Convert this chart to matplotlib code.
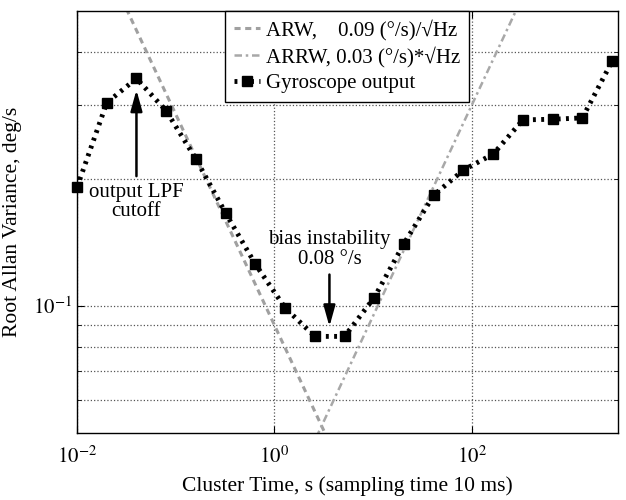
import numpy as np
import matplotlib
matplotlib.use("Agg")
from matplotlib import pyplot as plt
from matplotlib.ticker import NullFormatter, FixedLocator

plt.rcParams['font.family'] = ['Liberation Serif', 'DejaVu Serif']
plt.rcParams['mathtext.fontset'] = 'stix'

# cluster time (s) and root Allan variance (deg/s)
tau = [0.01, 0.02, 0.04, 0.08, 0.16, 0.32, 0.64, 1.28, 2.56, 5.12, 10.24,
       20.48, 40.96, 81.92, 163.84, 327.68, 655.36, 1310.72, 2621.44]
sigma = [0.191, 0.303, 0.346, 0.290, 0.223, 0.166, 0.1256, 0.099, 0.0847,
         0.0847, 0.1047, 0.1406, 0.183, 0.210, 0.229, 0.276, 0.277, 0.279, 0.380]

# noise model coefficients from the legend
arw_coef = 0.09
arrw_coef = 0.03

fig = plt.figure(figsize=(6.26, 5.0), dpi=100)
ax = fig.add_axes([0.123, 0.134, 0.864, 0.844])

t = np.logspace(-2, 3.5, 200)
ax.plot(t, arw_coef / np.sqrt(t), linestyle=(0, (2, 1.5)), color='#a0a0a0',
        lw=2.2, label='ARW,    0.09 (°/s)/√Hz')
ax.plot(t, arrw_coef * np.sqrt(t), linestyle=(0, (3, 1.5, 1, 1.5)), color='#a8a8a8',
        lw=1.8, label='ARRW, 0.03 (°/s)*√Hz')
ax.plot(tau, sigma, linestyle=(0, (0.6, 1.1)), color='black', lw=3.5,
        marker='s', markersize=6.5, clip_on=False, label='Gyroscope output')

ax.set_xscale('log')
ax.set_yscale('log')
ax.set_xlim(0.01, 3000)
ax.set_ylim(0.05, 0.5)

ax.xaxis.set_major_locator(FixedLocator([1e-2, 1e0, 1e2]))
ax.xaxis.set_minor_locator(FixedLocator([]))
ax.set_xticklabels([r'$10^{-2}$', r'$10^{0}$', r'$10^{2}$'])
ax.yaxis.set_major_locator(FixedLocator([0.1]))
ax.set_yticklabels([r'$10^{-1}$'])
ax.yaxis.set_minor_locator(FixedLocator([0.06, 0.07, 0.08, 0.09, 0.2, 0.3, 0.4]))
ax.yaxis.set_minor_formatter(NullFormatter())

ax.tick_params(which='both', direction='in', top=True, right=True, labelsize=15)
ax.tick_params(which='major', length=5)
ax.tick_params(which='minor', length=3)
ax.tick_params(axis='x', pad=10)
ax.grid(True, which='major', linestyle=':', color='#555555', lw=0.9)
ax.grid(True, which='minor', axis='y', linestyle=':', color='#555555', lw=0.9)
for s in ax.spines.values():
    s.set_linewidth(1.0)

arrow = dict(arrowstyle='-|>,head_width=0.25,head_length=0.9', color='black',
             lw=1.8, mutation_scale=14)
ax.annotate('', xy=(0.04, 0.33), xytext=(0.04, 0.2), arrowprops=arrow)
ax.text(0.04, 0.196, 'output LPF\ncutoff', ha='center', va='top', fontsize=15,
        linespacing=1.05)

ax.annotate('', xy=(3.6, 0.088), xytext=(3.6, 0.1205), arrowprops=arrow)
ax.text(3.6, 0.1225, 'bias instability\n0.08 °/s', ha='center', va='bottom',
        fontsize=15, linespacing=1.05)

leg = ax.legend(loc='upper left', bbox_to_anchor=(0.274, 1.0), borderaxespad=0,
                fontsize=15, fancybox=False, framealpha=1, edgecolor='black',
                handlelength=1.25, labelspacing=0.28, borderpad=0.42, handletextpad=0.3)
leg.get_frame().set_linewidth(1.0)

ax.set_xlabel('Cluster Time, s (sampling time 10 ms)', fontsize=15.5, labelpad=6)
ax.set_ylabel('Root Allan Variance, deg/s', fontsize=15.5, labelpad=8)

fig.savefig('out.png', dpi=100)
